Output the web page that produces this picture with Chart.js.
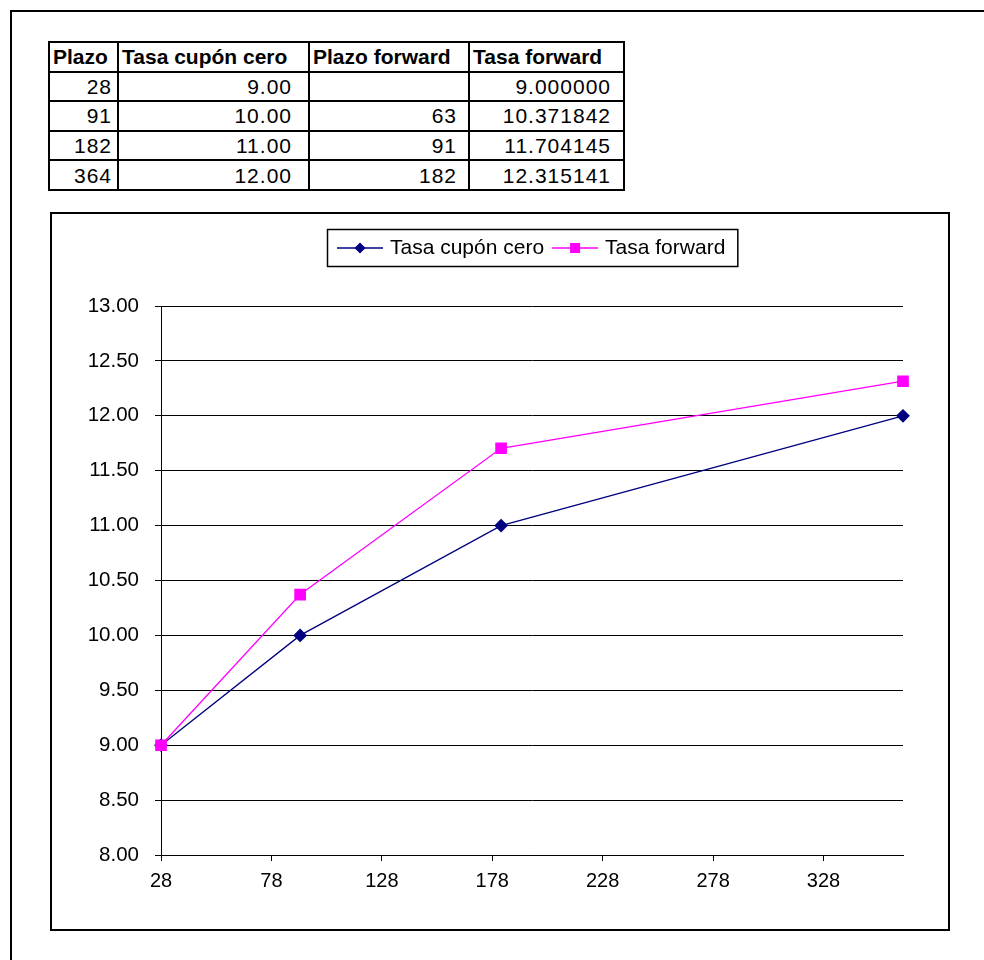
<!DOCTYPE html>
<html>
<head>
<meta charset="utf-8">
<script src="https://cdn.jsdelivr.net/npm/chart.js@4/dist/chart.umd.min.js"></script>
<style>
  html, body { margin: 0; padding: 0; background: #fff; overflow: hidden; width: 984px; height: 960px; }
  #frame { position: absolute; left: 10px; top: 10px; width: 1100px; height: 1100px;
           border-left: 2px solid #000; border-top: 2px solid #000; }
  #tabla { position: absolute; left: 48px; top: 41px; border-collapse: collapse;
           font-family: "Liberation Sans", Arial, sans-serif; font-size: 21px; color: #000; }
  #tabla th, #tabla td { border: 2px solid #000; height: 27.6px; padding: 0 4px; line-height: 27px; white-space: nowrap; }
  #tabla th { font-weight: bold; text-align: left; padding: 0 3px; }
  #tabla td { text-align: right; letter-spacing: 1px; }
  #box { position: absolute; left: 50px; top: 212px; width: 900px; height: 719px;
         border: 2px solid #000; box-sizing: border-box; background: #fff; }
  #Chart { display: block; }
</style>
</head>
<body>
<div id="frame"></div>
<table id="tabla"></table>
<div id="box"><canvas id="Chart" width="896" height="715"></canvas></div>
<script>
// table and chart values
const tableHeaders = ['Plazo', 'Tasa cupón cero', 'Plazo forward', 'Tasa forward'];
const plazo = [28, 91, 182, 364];
const tasaCero = [9.00, 10.00, 11.00, 12.00];
const plazoForward = [null, 63, 91, 182];
const tasaForward = [9.000000, 10.371842, 11.704145, 12.315141];
const seriesNames = ['Tasa cupón cero', 'Tasa forward'];
const xTicks = [28, 78, 128, 178, 228, 278, 328];
const xMin = 28, xMax = 364;
const yMin = 8, yMax = 13, yStep = 0.5;

// build the table
let colWidths = [61, 183, 152, 147];
let padRight = [5, 16, 11, 12];
let tabla = document.getElementById('tabla');
let head = '<tr>' + tableHeaders.map((h, i) => '<th style="width:' + colWidths[i] + 'px">' + h + '</th>').join('') + '</tr>';
let rows = plazo.map((p, i) => {
    let cells = [p, tasaCero[i].toFixed(2), plazoForward[i] == null ? '' : plazoForward[i], tasaForward[i].toFixed(6)];
    return '<tr>' + cells.map((c, j) => '<td style="padding-right:' + padRight[j] + 'px">' + c + '</td>').join('') + '</tr>';
}).join('');
tabla.innerHTML = head + rows;

const FONT = '"Liberation Sans", Arial, sans-serif';

// Excel-like legend box, centred over the plot area
const excelLegend = {
    id: 'excelLegend',
    afterDraw(chart) {
        let ctx = chart.ctx;
        let area = chart.chartArea;
        ctx.save();
        ctx.font = '21px ' + FONT;
        let items = chart.data.datasets.map(ds => ({ ds: ds, w: ctx.measureText(ds.label).width }));
        let total = 22;
        items.forEach((it, i) => { total += 46 + 7 + it.w + (i ? 8 : 0); });
        let h = 37, top = 15;
        let left = Math.round((area.left + area.right) / 2 - total / 2);
        ctx.fillStyle = '#fff';
        ctx.fillRect(left, top, total, h);
        ctx.strokeStyle = '#000';
        ctx.lineWidth = 1.5;
        ctx.strokeRect(left + 0.5, top + 0.5, total, h);
        let x = left + 10;
        let cy = top + h / 2 + 0.5;
        items.forEach((it, i) => {
            if (i) x += 8;
            let ds = it.ds;
            ctx.strokeStyle = ds.borderColor;
            ctx.lineWidth = 1.5;
            ctx.beginPath();
            ctx.moveTo(x, cy);
            ctx.lineTo(x + 46, cy);
            ctx.stroke();
            ctx.fillStyle = ds.backgroundColor;
            let mx = x + 23;
            ctx.beginPath();
            if (ds.pointStyle === 'rectRot') {
                ctx.moveTo(mx - 5.5, cy); ctx.lineTo(mx, cy - 5.5); ctx.lineTo(mx + 5.5, cy); ctx.lineTo(mx, cy + 5.5);
            } else {
                ctx.rect(mx - 5, cy - 5, 10, 10);
            }
            ctx.closePath();
            ctx.fill();
            x += 46 + 7;
            ctx.fillStyle = '#000';
            ctx.textBaseline = 'middle';
            ctx.fillText(ds.label, x, cy);
            x += it.w;
        });
        ctx.restore();
    }
};

let graph = document.getElementById('Chart');

let chartData = {
    datasets: [{
        label: seriesNames[0],
        data: plazo.map((p, i) => ({ x: p, y: tasaCero[i] })),
        borderColor: '#000080',
        backgroundColor: '#000080',
        borderWidth: 1.3,
        pointStyle: 'rectRot',
        pointRadius: 6,
        pointHoverRadius: 6,
        clip: false,
        order: 1,
    }, {
        label: seriesNames[1],
        data: plazo.map((p, i) => ({ x: p, y: tasaForward[i] })),
        borderColor: '#FF00FF',
        backgroundColor: '#FF00FF',
        borderWidth: 1.3,
        pointStyle: 'rect',
        pointRadius: 7.3,
        pointHoverRadius: 7.3,
        clip: false,
        order: 0,
    }],
};

let chartdtl = {
    type: 'line',
    data: chartData,
    plugins: [excelLegend],
    options: {
        responsive: false,
        animation: false,
        events: [],
        layout: { padding: { top: 92, right: 45, left: 0, bottom: 0 } },
        plugins: { legend: { display: false }, tooltip: { enabled: false } },
        scales: {
            x: {
                type: 'linear',
                min: xMin,
                max: xMax,
                afterBuildTicks: s => { s.ticks = xTicks.map(v => ({ value: v })); },
                afterFit: s => { s.height = 74; },
                grid: { drawOnChartArea: false, color: '#000', tickLength: 6, lineWidth: 1 },
                border: { color: '#000', width: 1 },
                ticks: { color: '#000', font: { family: FONT, size: 20 }, padding: 8, maxRotation: 0, autoSkip: false },
            },
            y: {
                min: yMin,
                max: yMax,
                afterFit: s => { s.width = 109; },
                grid: { color: '#000', tickLength: 6, lineWidth: 1 },
                border: { color: '#000', width: 1 },
                ticks: {
                    stepSize: yStep,
                    color: '#000',
                    font: { family: FONT, size: 20.5 },
                    padding: 16,
                    callback: v => v.toFixed(2),
                },
            },
        },
    },
};

let presentdata = new Chart(graph, chartdtl);
</script>
</body>
</html>
